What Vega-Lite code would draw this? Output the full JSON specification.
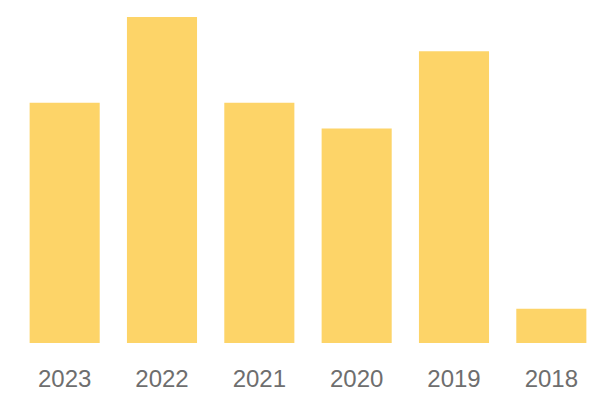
{
  "$schema": "https://vega.github.io/schema/vega-lite/v6.json",
  "autosize": "none",
  "width": 584,
  "height": 326,
  "padding": {"left": 16, "top": 17, "right": 0, "bottom": 57},
  "background": "white",
  "config": {"view": {"stroke": null}},
  "data": {"values": [
    {"year": "2023", "value": 14},
    {"year": "2022", "value": 19},
    {"year": "2021", "value": 14},
    {"year": "2020", "value": 12.5},
    {"year": "2019", "value": 17},
    {"year": "2018", "value": 2}
  ]},
  "mark": {"type": "bar", "color": "#FDD468"},
  "encoding": {
    "x": {
      "field": "year", "type": "nominal", "sort": null,
      "scale": {"paddingInner": 0.28, "paddingOuter": 0.14},
      "axis": {"title": null, "labelAngle": 0, "domain": false, "ticks": false, "grid": false,
               "labelFont": "Liberation Sans", "labelFontSize": 24, "labelColor": "#6e6e6e", "labelPadding": 24}
    },
    "y": {
      "field": "value", "type": "quantitative",
      "scale": {"domain": [0, 19], "nice": false, "zero": true},
      "axis": null
    }
  }
}
